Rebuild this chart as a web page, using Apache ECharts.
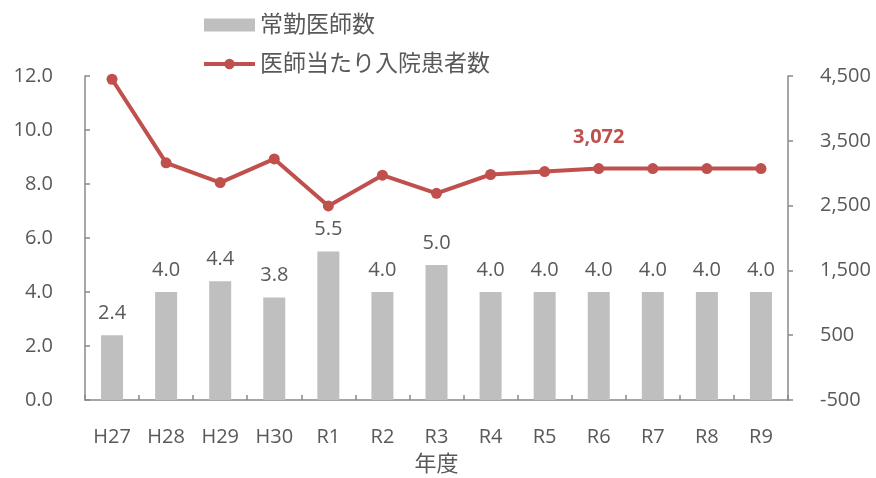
<!DOCTYPE html>
<html>
<head>
<meta charset="utf-8">
<script src="https://cdn.jsdelivr.net/npm/echarts@6/dist/echarts.min.js"></script>
<style>
html,body{margin:0;padding:0;background:#fff;}
#chart{width:876px;height:478px;}
</style>
</head>
<body>
<div id="chart"></div>
<script>
const categories = ['H27','H28','H29','H30','R1','R2','R3','R4','R5','R6','R7','R8','R9'];
const doctors = [2.4, 4.0, 4.4, 3.8, 5.5, 4.0, 5.0, 4.0, 4.0, 4.0, 4.0, 4.0, 4.0];
const patientsPerDoctor = [4450, 3160, 2855, 3220, 2495, 2970, 2690, 2980, 3025, 3072, 3072, 3072, 3072];
const labeledIndex = 9;
const leftTicks = {min: 0, max: 12, interval: 2};
const rightTicks = {min: -500, max: 4500, interval: 1000};
const seriesNames = ['常勤医師数', '医師当たり入院患者数'];
const xName = '年度';

const FONT = "'Open Sans', 'Noto Sans CJK JP', sans-serif";
const TXT = '#595959';
const AX = '#898989';
const RED = '#C0504D';
const GRAY = '#BFBFBF';

const chart = echarts.init(document.getElementById('chart'), null, {renderer: 'canvas'});
chart.setOption({
  animation: false,
  textStyle: {fontFamily: FONT},
  legend: {
    orient: 'vertical',
    left: 197,
    top: 8,
    itemWidth: 51,
    itemHeight: 13,
    itemGap: 15,
    textStyle: {color: TXT, fontSize: 23, lineHeight: 24, fontFamily: FONT},
    data: [
      {name: seriesNames[0], icon: 'rect'},
      {name: seriesNames[1], lineStyle: {width: 4, color: RED}, itemStyle: {color: RED}}
    ]
  },
  grid: {left: 85, right: 88, top: 76, bottom: 78, containLabel: false, outerBoundsMode: 'none'},
  xAxis: {
    type: 'category',
    data: categories,
    name: xName,
    nameLocation: 'middle',
    nameGap: 54,
    nameTextStyle: {color: TXT, fontSize: 22, fontFamily: FONT},
    axisLine: {lineStyle: {color: AX, width: 1.5}},
    axisTick: {show: true, inside: true, length: 5, lineStyle: {color: AX, width: 1.5}},
    axisLabel: {color: TXT, fontSize: 20, margin: 27, fontFamily: FONT}
  },
  yAxis: [
    {
      type: 'value',
      min: leftTicks.min, max: leftTicks.max, interval: leftTicks.interval,
      position: 'left',
      axisLine: {show: true, lineStyle: {color: AX, width: 1.5}},
      axisTick: {show: true, inside: true, length: 5, lineStyle: {color: AX, width: 1.5}},
      splitLine: {show: false},
      axisLabel: {color: TXT, fontSize: 20, margin: 32, fontFamily: FONT,
        formatter: v => v.toFixed(1)}
    },
    {
      type: 'value',
      min: rightTicks.min, max: rightTicks.max, interval: rightTicks.interval,
      position: 'right',
      axisLine: {show: true, lineStyle: {color: AX, width: 1.5}},
      axisTick: {show: true, inside: false, length: 5, lineStyle: {color: AX, width: 1.5}},
      splitLine: {show: false},
      axisLabel: {color: TXT, fontSize: 20, margin: 32, fontFamily: FONT,
        formatter: v => v.toLocaleString('en-US')}
    }
  ],
  series: [
    {
      name: seriesNames[0],
      type: 'bar',
      yAxisIndex: 0,
      data: doctors,
      barWidth: 22,
      itemStyle: {color: GRAY},
      label: {show: true, position: 'top', distance: 12, color: TXT, fontSize: 20, fontFamily: FONT,
        formatter: p => p.value.toFixed(1)}
    },
    {
      name: seriesNames[1],
      type: 'line',
      yAxisIndex: 1,
      data: patientsPerDoctor.map((v, i) => i === labeledIndex ? {
        value: v,
        label: {show: true, position: 'top', distance: 16, color: RED, fontSize: 20, fontWeight: 'bold', fontFamily: FONT,
          formatter: p => p.value.toLocaleString('en-US')}
      } : v),
      symbol: 'circle',
      symbolSize: 11,
      lineStyle: {color: RED, width: 4},
      itemStyle: {color: RED},
      label: {show: false},
      z: 3
    }
  ]
});
</script>
</body>
</html>
